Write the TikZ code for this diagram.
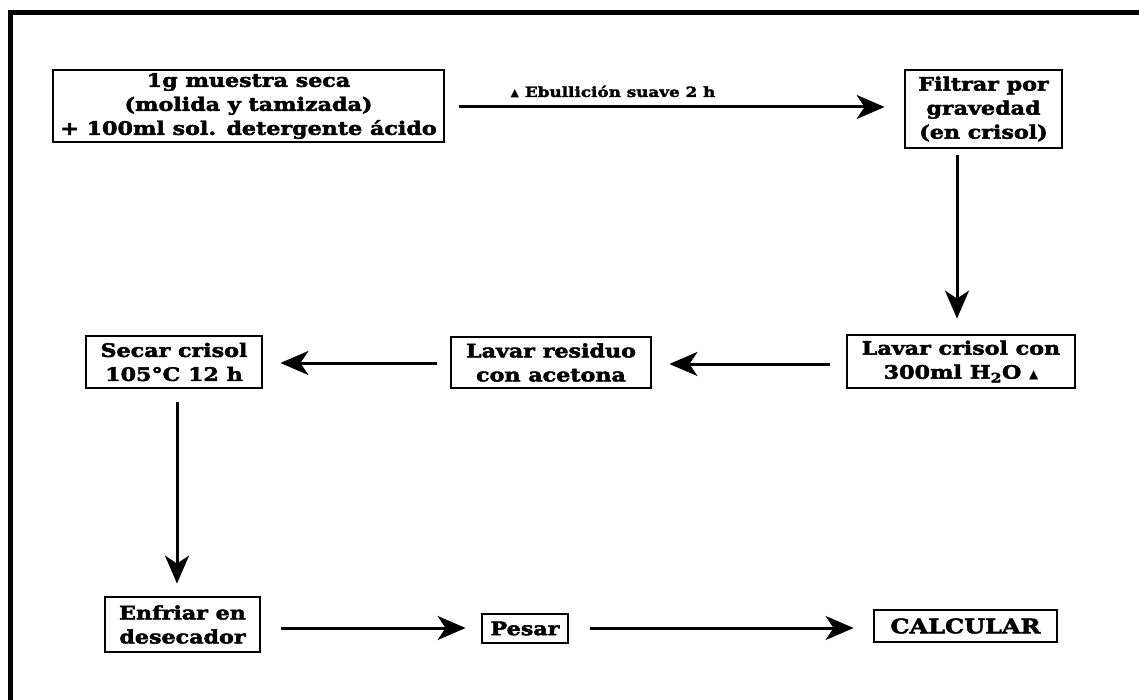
\documentclass[tikz,border=0pt]{standalone}
\usepackage{fontspec}
\setmainfont{DejaVu Serif}[FakeStretch=1.2, BoldFeatures={FakeBold=2.5}]
\newfontfamily\symfont{DejaVu Sans}
\usetikzlibrary{arrows.meta}
\begin{document}
\begin{tikzpicture}[x=1pt,y=-1pt,
  box/.style={draw=black, line width=2.8pt, rectangle, inner sep=0pt, align=center,
    font=\fontsize{18.5}{24}\selectfont\bfseries},
  arr/.style={line width=3pt, -{Stealth[length=28pt,width=24pt,inset=8pt]}},
  lbl/.style={font=\fontsize{14}{15}\selectfont\bfseries, inner sep=0pt}]
\useasboundingbox (0,0) rectangle (1139,700);
\fill[white] (0,0) rectangle (1139,700);
\draw[line width=5pt] (10.5,702) -- (10.5,12.5) -- (1141,12.5);
% boxes
\node[box, minimum width=391pt, minimum height=72pt] (b1) at (248.5,106)
  {1g muestra seca\\(molida y tamizada)\\+ 100ml sol. detergente ácido};
\node[box, minimum width=157pt, minimum height=78pt] (b2) at (983.5,109)
  {Filtrar por\\gravedad\\(en crisol)};
\node[box, minimum width=228pt, minimum height=53pt] (b3) at (961,361.5)
  {Lavar crisol con\\300ml H\textsubscript{2}O {\symfont\fontsize{12}{12}\selectfont ▲}};
\node[box, minimum width=200pt, minimum height=51pt] (b4) at (551,362.5)
  {Lavar residuo\\con acetona};
\node[box, minimum width=176pt, minimum height=52pt] (b5) at (174,362)
  {Secar crisol\\105°C 12 h};
\node[box, minimum width=155pt, minimum height=55pt] (b6) at (182.5,624.5)
  {Enfriar en\\desecador};
\node[box, minimum width=86pt, minimum height=29pt] (b7) at (525,628.5) {Pesar};
\node[box, minimum width=183pt, minimum height=32pt, font=\fontsize{20}{24}\selectfont\bfseries] (b8) at (965.5,626) {CALCULAR};
% label
\node[lbl] (l1) at (613,92) {{\symfont\fontsize{11}{11}\selectfont ▲} Ebullición suave 2 h};
% connectors
\coordinate (c1) at (444,107);
\draw[arr, shorten <=15pt, shorten >=19pt] (c1) -- (c1 -| b2.west);
\coordinate (v1) at (957,148);
\draw[arr, shorten <=7pt, shorten >=15pt] (v1) -- (v1 |- b3.north);
\coordinate (c3) at (847,364);
\draw[arr, shorten <=17pt, shorten >=17pt] (c3) -- (c3 -| b4.east);
\coordinate (c4) at (451,363);
\draw[arr, shorten <=14pt, shorten >=17pt] (c4) -- (c4 -| b5.east);
\coordinate (v2) at (177,388);
\draw[arr, shorten <=14pt, shorten >=12pt] (v2) -- (v2 |- b6.north);
\coordinate (c6) at (260,628);
\draw[arr, shorten <=21pt, shorten >=15pt] (c6) -- (c6 -| b7.west);
\coordinate (c7) at (568,628);
\draw[arr, shorten <=22pt, shorten >=19pt] (c7) -- (c7 -| b8.west);
\end{tikzpicture}
\end{document}
